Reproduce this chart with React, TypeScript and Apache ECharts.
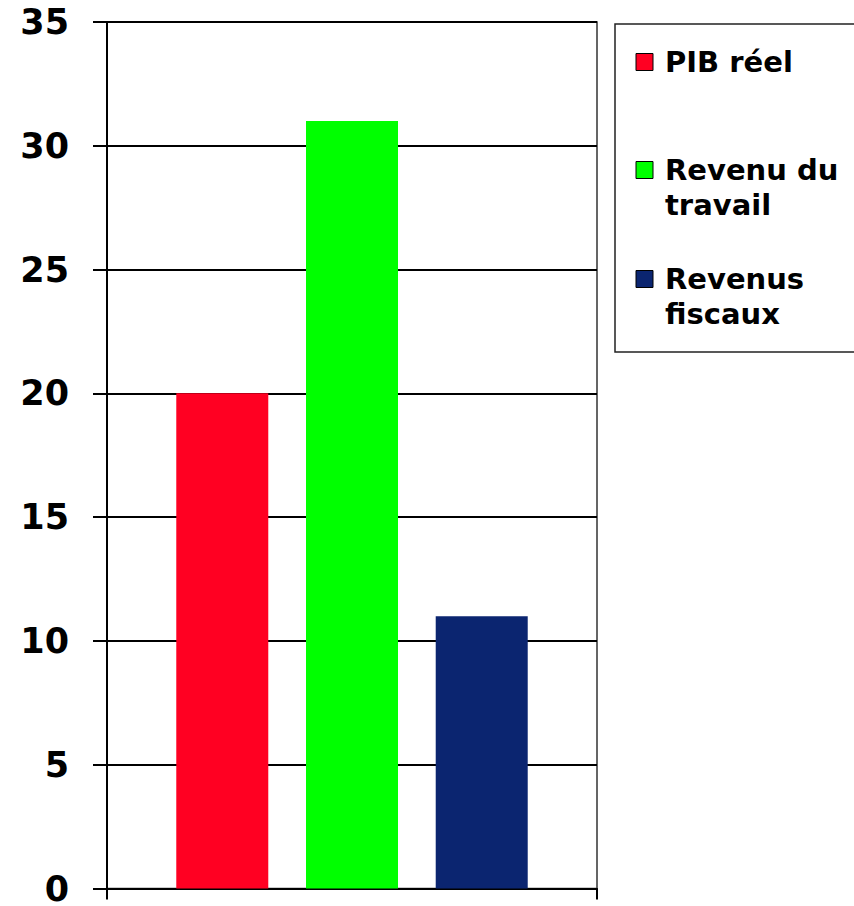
import React, { useEffect, useRef } from "react";
import * as echarts from "echarts";

const categories = [""];
const seriesNames = ["PIB réel", "Revenu du\ntravail", "Revenus\nfiscaux"];
const seriesValues = [20, 31, 11];
const seriesColors = ["#FF0022", "#00FF00", "#0B2570"];
const yTicks = { min: 0, max: 35, interval: 5 };

export default function App() {
  const ref = useRef<HTMLDivElement>(null);
  useEffect(() => {
    if (!ref.current) return;
    const chart = echarts.init(ref.current, null, { renderer: "svg" });
    const font = "DejaVu Sans";
    const legendTops = [44.5, 152.5, 261.5];
    const legendGraphics: any[] = [
      {
        type: "rect",
        shape: { x: 615, y: 24, width: 300, height: 328 },
        style: { fill: "#fff", stroke: "#222", lineWidth: 1.5 },
        z: 10,
      },
    ];
    seriesNames.forEach((name, i) => {
      legendGraphics.push({
        type: "rect",
        shape: { x: 636, y: legendTops[i] + 9, width: 17, height: 17 },
        style: { fill: seriesColors[i], stroke: "#000", lineWidth: 1 },
        z: 11,
      });
      legendGraphics.push({
        type: "text",
        x: 665,
        y: legendTops[i],
        style: {
          text: name,
          fill: "#000",
          font: `bold 29px "${font}"`,
          lineHeight: 35,
          verticalAlign: "top",
          align: "left",
        },
        z: 11,
      });
    });

    chart.setOption({
      animation: false,
      backgroundColor: "#fff",
      grid: {
        left: 107,
        top: 22,
        right: 257,
        bottom: 17,
        show: true,
        borderColor: "#333",
        borderWidth: 1.5,
        containLabel: false,
      },
      xAxis: {
        type: "category",
        data: categories,
        axisLine: { lineStyle: { color: "#000", width: 2 } },
        axisTick: { show: true, length: 11, lineStyle: { color: "#000", width: 2 } },
        axisLabel: { show: false },
      },
      yAxis: {
        type: "value",
        min: yTicks.min,
        max: yTicks.max,
        interval: yTicks.interval,
        axisLine: { show: true, lineStyle: { color: "#000", width: 2 } },
        axisTick: { show: true, length: 14, lineStyle: { color: "#000", width: 2 } },
        splitLine: { show: true, lineStyle: { color: "#000", width: 2 } },
        axisLabel: {
          margin: 38,
          color: "#000",
          fontFamily: font,
          fontWeight: "bold",
          fontSize: 35,
          lineHeight: 28,
        },
      },
      series: seriesNames.map((name, i) => ({
        type: "bar",
        name,
        data: [seriesValues[i]],
        barWidth: 92,
        barGap: "41%",
        itemStyle: { color: seriesColors[i] },
      })),
      graphic: legendGraphics,
    });
    return () => chart.dispose();
  }, []);
  return <div ref={ref} style={{ width: 854, height: 906, position: "absolute", left: 0, top: 0 }} />;
}
